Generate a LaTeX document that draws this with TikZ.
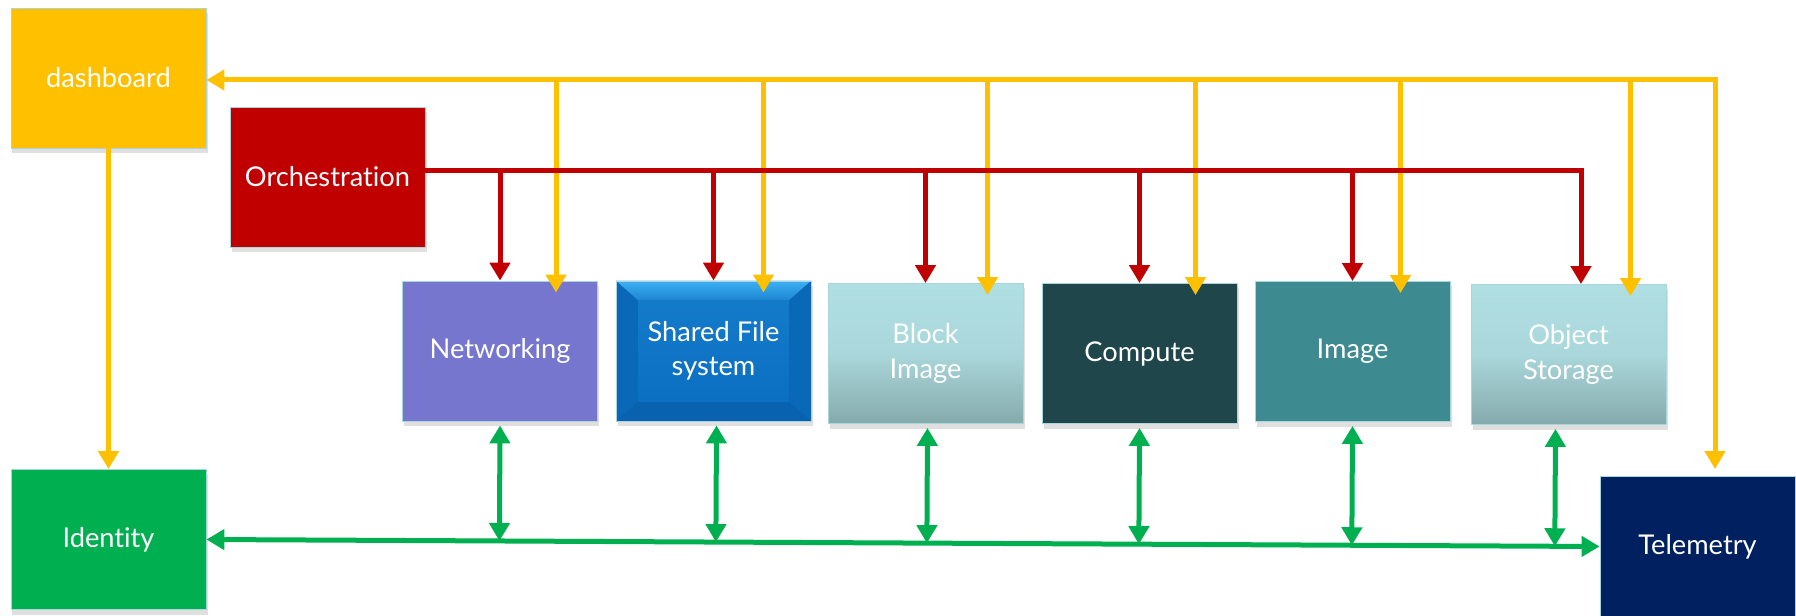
\documentclass[tikz,border=0pt]{standalone}
\usepackage{fontspec}
\setmainfont{Lato}[Ligatures=NoCommon]
\usetikzlibrary{arrows.meta,shadows,calc}

\definecolor{dashyellow}{RGB}{255,192,0}
\definecolor{orchred}{RGB}{192,0,0}
\definecolor{netpurple}{RGB}{118,118,207}
\definecolor{sfsblue}{RGB}{12,112,194}
\definecolor{sfslight}{RGB}{62,176,242}
\definecolor{sfsside}{RGB}{10,104,184}
\definecolor{sfsdark}{RGB}{8,98,176}
\definecolor{paleteal}{RGB}{176,223,227}
\definecolor{greyteal}{RGB}{134,170,172}
\definecolor{darkteal}{RGB}{31,70,74}
\definecolor{midteal}{RGB}{62,138,145}
\definecolor{idgreen}{RGB}{0,176,80}
\definecolor{telenavy}{RGB}{0,32,96}
\definecolor{rimblue}{RGB}{168,214,220}

\tikzset{
  svc/.style={draw=rimblue, line width=0.5pt, minimum width=39mm, minimum height=28mm,
    inner sep=0pt, text=white, align=center, font=\fontsize{15.5}{19.5}\selectfont,
    drop shadow={shadow xshift=0.3mm, shadow yshift=-1mm, opacity=0.25}},
  paleshade/.style={top color=paleteal, bottom color=greyteal, middle color=paleteal!85!greyteal},
  sfsbevel/.style={fill=sfsblue, path picture={
    \path (path picture bounding box.north west) coordinate (bnw)
          (path picture bounding box.south east) coordinate (bse);
    \fill[top color=sfslight, bottom color=sfsblue!70!sfslight] (bnw) -- (bnw -| bse)
      -- ($(bnw -| bse)+(-4.5mm,-4mm)$) -- ($(bnw)+(4.5mm,-4mm)$) -- cycle;
    \fill[sfsside] (bse) -- (bse |- bnw) -- ($(bnw -| bse)+(-4.5mm,-4mm)$)
      -- ($(bse)+(-4.5mm,4mm)$) -- cycle;
    \fill[sfsside] (bnw) -- (bnw |- bse) -- ($(bnw |- bse)+(4.5mm,4mm)$)
      -- ($(bnw)+(4.5mm,-4mm)$) -- cycle;
    \fill[sfsdark] (bse) -- (bse -| bnw) -- ($(bnw |- bse)+(4.5mm,4mm)$)
      -- ($(bse)+(-4.5mm,4mm)$) -- cycle;
    \fill[top color=sfsblue!85!sfslight, bottom color=sfsblue] ($(bnw)+(4.5mm,-4mm)$) rectangle ($(bse)+(-4.5mm,4mm)$);
  }},
  ylink/.style={draw=dashyellow, line width=1mm},
  rlink/.style={draw=orchred, line width=1mm},
  glink/.style={draw=idgreen, line width=1mm}
}

\begin{document}
\begin{tikzpicture}[x=0.2mm, y=-0.2mm, >={Triangle[length=3.6mm,width=4mm]}]
  \useasboundingbox (0,0) rectangle (1796,616);

  % Control boxes
  \node[svc, fill=dashyellow] (dashboard) at (108.5,78) {dashboard};
  \node[svc, fill=orchred] (orchestration) at (327.5,177) {Orchestration};

  % Services
  \node[svc, fill=netpurple] (networking) at (500,351) {Networking};
  \node[svc, sfsbevel] (sharedfs) at (713.5,351) {Shared File\\system};
  \node[svc, paleshade] (blockimage) at (925.5,353.5) {Block\\Image};
  \node[svc, fill=darkteal] (compute) at (1139.5,353.5) {Compute};
  \node[svc, fill=midteal] (image) at (1352.5,351.5) {Image};
  \node[svc, paleshade] (objectstorage) at (1568.5,354.5) {Object\\Storage};

  % Bottom boxes
  \node[svc, fill=idgreen] (identity) at (108.5,539.5) {Identity};
  \node[svc, fill=telenavy] (telemetry) at (1697.5,546.5) {Telemetry};

  % Bus corners
  \coordinate (ybus) at (1715,80);
  \coordinate (rbus) at (1581,171);

  % Yellow links from dashboard
  \draw[ylink, <->, shorten >=1.4mm] (dashboard.east |- ybus) -- (ybus) -- (ybus |- telemetry.north);
  \draw[ylink, ->] (dashboard.south) -- (identity.north);
  \foreach \blk/\dx in {networking/56, sharedfs/50, blockimage/62, compute/56, image/48, objectstorage/62} {
    \coordinate (ydrop) at ($(\blk.north)+(\dx,12)$);
    \draw[ylink, ->] (ydrop |- ybus) -- (ydrop);
  }

  % Red links from orchestration
  \draw[rlink, ->] (orchestration.east |- rbus) -- (rbus) -- (rbus |- objectstorage.north);
  \foreach \blk in {networking, sharedfs, blockimage, compute, image}
    \draw[rlink, ->] (\blk.north |- rbus) -- (\blk.north);

  % Green links to identity and telemetry
  \draw[glink, <->] (identity.east) -- (telemetry.west);
  \foreach \blk/\dx in {networking/0, sharedfs/3, blockimage/2, compute/0, image/0, objectstorage/-13} {
    \coordinate (gtop) at ($(\blk.south)+(\dx,4)$);
    \draw[glink, <->] ($(identity.east)!(gtop)!(telemetry.west)$) -- (gtop);
  }
\end{tikzpicture}
\end{document}
